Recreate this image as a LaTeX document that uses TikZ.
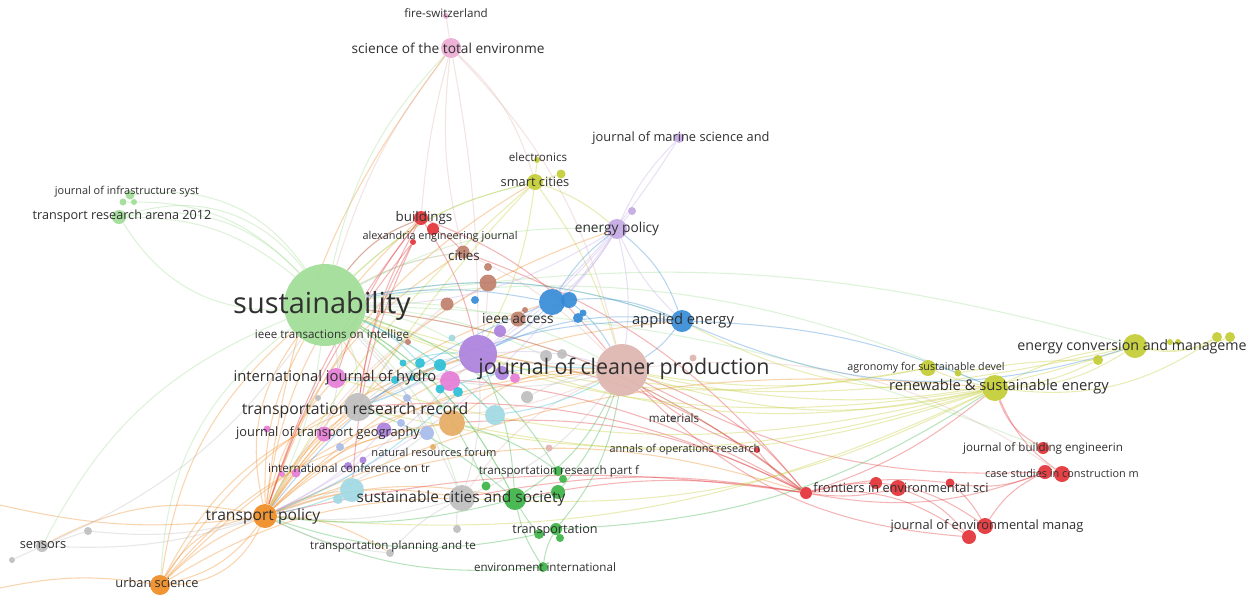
\documentclass[tikz,border=0pt]{standalone}
\usepackage{fontspec}
\setmainfont{Open Sans}
\usepackage{xcolor}
\usepackage{tikz}
\usetikzlibrary{backgrounds}
\definecolor{vgreenl}{RGB}{160,222,150}
\definecolor{vgreen}{RGB}{60,180,70}
\definecolor{vred}{RGB}{226,50,55}
\definecolor{vyellow}{RGB}{196,204,52}
\definecolor{vblue}{RGB}{55,140,215}
\definecolor{vpurple}{RGB}{172,130,222}
\definecolor{vlav}{RGB}{196,170,228}
\definecolor{vcyan}{RGB}{45,192,215}
\definecolor{vcyanl}{RGB}{160,218,228}
\definecolor{vorange}{RGB}{240,140,35}
\definecolor{vtan}{RGB}{230,172,100}
\definecolor{vgrey}{RGB}{190,190,190}
\definecolor{vpink}{RGB}{230,125,215}
\definecolor{vpinkl}{RGB}{236,172,210}
\definecolor{vbrown}{RGB}{192,128,108}
\definecolor{vrose}{RGB}{222,182,176}
\definecolor{vperi}{RGB}{168,188,235}
\definecolor{vtext}{RGB}{48,48,48}

\begin{document}
\begin{tikzpicture}[
  x=0.02cm, y=-0.02cm,
  jn/.style={circle, inner sep=0pt, minimum size=#1*0.2mm, fill opacity=0.92},
  lab/.style={text=vtext, inner sep=0pt, font=\fontsize{#1}{#1}\selectfont},
  ed/.style={draw=#1, draw opacity=0.36, line width=0.6pt}
]
\useasboundingbox (0,0) rectangle (1250,600);

% Journals: light green
\foreach \n/\x/\y/\d in {sus/325/305/82, tra/119/217/14, jis1/130/195/9, jis2/123/202/7, jis3/134/202/6}
  \node[jn=\d, fill=vgreenl] (\n) at (\x,\y) {};
% pink
\foreach \n/\x/\y/\d in {stoe/451/48/20, fire/446/16/6}
  \node[jn=\d, fill=vpinkl] (\n) at (\x,\y) {};
\foreach \n/\x/\y/\d in {ijh/336/378/20, pk2/450/381/20, pk3/515/378/10, pk4/324/434/15, pk5/296/473/9, pk6/282/474/6, pk7/267/429/7}
  \node[jn=\d, fill=vpink] (\n) at (\x,\y) {};
% brown and rose
\foreach \n/\x/\y/\d in {cit/463/252/13, bn1/488/267/8, bn2/488/283/17, bn3/447/304/13, bn4/518/319/15, bn5/525/310/6, bn6/408/342/6}
  \node[jn=\d, fill=vbrown] (\n) at (\x,\y) {};
\foreach \n/\x/\y/\d in {jcp/622/370/52, rs1/549/448/7, rs2/693/358/7}
  \node[jn=\d, fill=vrose] (\n) at (\x,\y) {};
% red
\foreach \n/\x/\y/\d in {bld1/421/218/14, bld2/433/229/12, alx/413/242/6, fr1/806/493/12, fr2/876/483/12, fr3/898/488/16, fr4/950/483/9, jbe/1043/448/12, cs1/1045/472/14, cs2/1062/474/16, jem1/985/526/16, jem2/969/537/14, aor/757/450/6}
  \node[jn=\d, fill=vred] (\n) at (\x,\y) {};
% yellow
\foreach \n/\x/\y/\d in {rse/995/388/26, agr1/928/368/16, agr2/958/373/7, ecm/1135/346/24, ecm2/1098/360/10, ecm3/1170/342/6, ecm4/1178/342/6, ecm5/1217/337/10, ecm6/1230/337/10, smc/535/182/16, ele/537/160/6, smc2/561/174/9}
  \node[jn=\d, fill=vyellow] (\n) at (\x,\y) {};
% blue
\foreach \n/\x/\y/\d in {ae/682/321/22, bl1/552/302/26, bl2/569/300/16, bl3/578/318/10, bl4/583/313/7, bl5/475/300/8}
  \node[jn=\d, fill=vblue] (\n) at (\x,\y) {};
% purple
\foreach \n/\x/\y/\d in {ep/617/229/20, ep2/632/211/8, jms/679/138/10}
  \node[jn=\d, fill=vlav] (\n) at (\x,\y) {};
\foreach \n/\x/\y/\d in {pu1/478/354/38, pu2/500/331/12, pu3/502/373/14, pu4/384/430/15, pu5/348/466/8, pu6/363/460/7}
  \node[jn=\d, fill=vpurple] (\n) at (\x,\y) {};
% cyan
\foreach \n/\x/\y/\d in {cy1/403/363/7, cy2/420/363/10, cy3/440/365/12, cy4/440/389/9, cy5/458/392/10, cy6/395/380/8, cy7/412/378/6}
  \node[jn=\d, fill=vcyan] (\n) at (\x,\y) {};
\foreach \n/\x/\y/\d in {lc1/495/415/20, lc2/352/490/24, lc3/338/499/10, lc4/452/338/7}
  \node[jn=\d, fill=vcyanl] (\n) at (\x,\y) {};
% orange
\foreach \n/\x/\y/\d in {tan1/452/423/26, tan2/433/447/6}
  \node[jn=\d, fill=vtan] (\n) at (\x,\y) {};
\foreach \n/\x/\y/\d in {tp/265/516/24, us/160/585/20}
  \node[jn=\d, fill=vorange] (\n) at (\x,\y) {};
% grey
\foreach \n/\x/\y/\d in {sen/42/546/12, sen2/12/560/6, sen3/88/531/8, trr/358/407/28, scs/462/498/26, tpt/390/553/8, gy5/457/529/8, gy6/527/397/12, gy7/546/356/12, gy8/562/354/10, gy9/673/419/6, gy10/318/398/6}
  \node[jn=\d, fill=vgrey] (\n) at (\x,\y) {};
\foreach \n/\x/\y/\d in {pw1/427/433/14, pw2/401/423/8, pw3/340/447/8, pw4/407/398/8}
  \node[jn=\d, fill=vperi] (\n) at (\x,\y) {};
% green
\foreach \n/\x/\y/\d in {gr1/486/486/9, gr2/515/499/22, gr3/558/471/10, gr4/563/479/8, gr5/558/492/14, gr6/539/534/10, gr7/556/529/12, gr8/560/538/8, gr9/543/567/10}
  \node[jn=\d, fill=vgreen] (\n) at (\x,\y) {};

\coordinate (w1) at (0,505);
\coordinate (w2) at (0,588);

% Links
\begin{scope}[on background layer]
\fill[white] (0,0) rectangle (1250,600);
\foreach \a/\b/\s in {tp/us/20, tp/us/32, tp/us/-10, us/tp/25, tp/sus/15, tp/sus/25, tp/trr/15, tp/tan1/20, tp/pu1/20, tp/jcp/20, tp/ijh/15, tp/scs/15, tp/lc2/10, tp/pk4/10, tp/gr2/15, tp/ep/20, tp/bld1/20, tp/cit/20, tp/fr1/20, tp/rse/15, tp/smc/20, tp/sen/-20, tp/tpt/15, tp/pw1/15, tp/cy3/15, tp/bl1/20, tp/ae/20, us/sus/20, us/trr/20, us/tan1/20, us/jcp/20, us/pu1/20, us/scs/15, tan1/sus/20, tan1/jcp/20, tp/w1/10, us/w2/-10, tp/stoe/15}
  \draw[ed=vorange] (\a) to[bend left=\s] (\b);
\foreach \a/\b/\s in {sus/tra/-20, sus/tra/-28, sus/tra/-36, sus/jis1/-32, sus/jis2/-24, tra/sus/-30, sus/jcp/15, sus/pu1/10, sus/rse/15, sus/ecm/12, sus/ep/15, sus/bld1/15, sus/smc/15, sus/stoe/15, sus/ae/15, sus/scs/15, sus/gr2/15, sus/fr1/15, sus/trr/15, sus/ijh/15, sus/sen/-20, sus/us/-25, sus/cit/10, sus/lc1/10, sus/tan1/10, sus/gy7/10, sus/jbe/10, sus/tp/10}
  \draw[ed=vgreenl] (\a) to[bend left=\s] (\b);
\foreach \a/\b/\s in {fr1/jcp/-15, fr1/sus/-15, fr1/pu1/-15, fr1/trr/-15, fr1/tan1/-15, fr1/scs/-10, fr1/cit/-15, fr1/ijh/-15, fr1/fr3/-10, fr1/fr4/10, fr1/jem2/20, fr1/jem1/25, fr1/cs1/-15, fr1/tp/-10, fr1/gr2/-10, fr1/rse/-10, fr4/cs1/-15, fr4/jem1/10, fr3/jem2/15, jbe/rse/20, cs2/rse/15, jem1/cs1/15, fr1/aor/10, aor/jcp/10, bld1/sus/-15, bld1/trr/-10, bld1/tp/-10, bld1/jcp/15, bld1/pu1/10, bld1/ijh/-10, alx/tp/-10, alx/trr/-10, alx/lc2/-10, bld2/cit/10, jem2/jcp/20, cs1/jcp/15}
  \draw[ed=vred] (\a) to[bend left=\s] (\b);
\foreach \a/\b/\s in {stoe/cit/-10, stoe/jcp/15, stoe/pu1/5, stoe/smc/15, stoe/sus/-10, stoe/bld1/-5, fire/stoe/0, cit/sus/-10, cit/jcp/10, bn2/tp/-15, bn3/trr/-10, jcp/trr/15, jcp/scs/-15, jcp/cs2/20, bn2/pu1/5}
  \draw[ed=vrose] (\a) to[bend left=\s] (\b);
\foreach \a/\b/\s in {rse/jcp/15, rse/sus/15, rse/pu1/15, rse/trr/15, rse/ijh/15, rse/tp/15, rse/ecm/-15, rse/ecm/10, rse/agr1/5, rse/ae/15, rse/scs/15, rse/tan1/15, rse/ecm5/-20, agr1/jcp/10, agr1/sus/15, agr2/ecm2/5, ecm/sus/15, ecm/jcp/15, ecm/ecm5/-20, ecm/ecm6/-15, ecm2/rse/10, smc/sus/-15, smc/pu1/10, smc/jcp/10, smc/ep/10, smc/ele/0, smc/smc2/0, smc/tp/-10, smc/trr/-5}
  \draw[ed=vyellow] (\a) to[bend left=\s] (\b);
\foreach \a/\b/\s in {ae/bl1/-15, ae/pu1/-15, ae/ecm/-20, ae/ep/-15, ae/sus/-15, ae/jcp/10, ae/rse/10, ae/trr/-15, bl1/pu1/10, bl1/sus/-10, bl1/tp/-15, bl2/jcp/10, bl1/ep/10}
  \draw[ed=vblue] (\a) to[bend left=\s] (\b);
\foreach \a/\b/\s in {ep/pu1/15, ep/sus/15, ep/jcp/10, ep/jms/10, ep/ae/-10, ep/bl1/10, ep/tp/15, ep/trr/15, ep/ep2/0, jms/pu1/10, pu1/tp/10, pu1/jcp/10, pu4/tp/10}
  \draw[ed=vlav] (\a) to[bend left=\s] (\b);
\foreach \a/\b/\s in {gr2/sus/-15, gr2/jcp/-15, gr2/trr/-10, gr2/tp/10, gr2/pu1/-10, gr9/gr7/10, gr9/gr2/10, gr7/jcp/-15, gr3/sus/-20, gr3/tan1/-10, gr5/jcp/-10, gr6/tp/15, gr1/sus/-15, gr9/tp/15, gr7/rse/-15, gr5/gr2/5, gr6/gr2/5}
  \draw[ed=vgreen] (\a) to[bend left=\s] (\b);
\foreach \a/\b/\s in {cy1/pu1/10, cy2/sus/-10, cy3/trr/10, cy4/jcp/10, cy5/tp/10, cy6/ijh/5, lc1/sus/-10, lc2/tp/5, lc1/jcp/-10}
  \draw[ed=vcyan] (\a) to[bend left=\s] (\b);
\foreach \a/\b/\s in {sen/tp/-10, sen/sus/-15, sen/sen2/0, sen/sen3/0, sen3/tp/-10, trr/jcp/15, trr/pu1/15, scs/jcp/-15, scs/pu1/-10, scs/tp/10, scs/sus/-10, tpt/tp/10, tpt/scs/10, gy5/scs/10, gy6/jcp/10, pw1/sus/-10, pw1/tp/10, pk2/jcp/-10, pk4/sus/-15, ijh/pu1/-10}
  \draw[ed=vgrey] (\a) to[bend left=\s] (\b);
\end{scope}

% Labels
\foreach \n/\x/\y/\s/\t in {
  t-sus/322/306/16.5/sustainability,
  t-jcp/624/369/12.2/journal of cleaner production,
  t-trr/355/410/9.0/transportation research record,
  t-scs/461/498/8.8/sustainable cities and society,
  t-tp/263/516/8.9/transport policy,
  t-rse/999/387/8.4/renewable \& sustainable energy,
  t-ecm/1132/347/8.1/energy conversion and manageme,
  t-ae/683/321/8.4/applied energy,
  t-ijh/335/378/8.4/international journal of hydro,
  t-jtg/328/433/7.3/journal of transport geography,
  t-stoe/448/48/7.8/science of the total environme,
  t-jem/987/526/7.3/journal of environmental manag,
  t-jms/681/138/7.3/journal of marine science and,
  t-tra/122/216/7.2/transport research arena 2012,
  t-ep/617/229/7.8/energy policy,
  t-ieee/518/319/7.8/ieee access,
  t-bld/424/218/7.6/buildings,
  t-cit/464/256/7.6/cities,
  t-trn/555/530/7.2/transportation,
  t-fr/901/488/7.3/frontiers in environmental sci,
  t-sen/43/545/7.3/sensors,
  t-us/157/583/7.3/urban science,
  t-smc/535/182/7.3/smart cities,
  t-jis/127/192/6.2/journal of infrastructure syst,
  t-alx/440/237/6.2/alexandria engineering journal,
  t-iti/332/335/6.6/ieee transactions on intellige,
  t-nrf/434/452/6.3/natural resources forum,
  t-ict/349/468/6.6/international conference on tr,
  t-trp/559/471/6.6/transportation research part f,
  t-tpt/393/546/6.6/transportation planning and te,
  t-ei/545/567/6.6/environment international,
  t-mat/674/418/6.6/materials,
  t-aor/685/450/6.2/annals of operations research,
  t-agr/926/368/6.1/agronomy for sustainable devel,
  t-jbe/1043/448/6.6/journal of building engineerin,
  t-cs/1062/473/6.2/case studies in construction m,
  t-fire/446/13/6.6/fire-switzerland,
  t-ele/538/157/6.6/electronics}
  \node[lab=\s] (\n) at (\x,\y) {\t};
\end{tikzpicture}
\end{document}
